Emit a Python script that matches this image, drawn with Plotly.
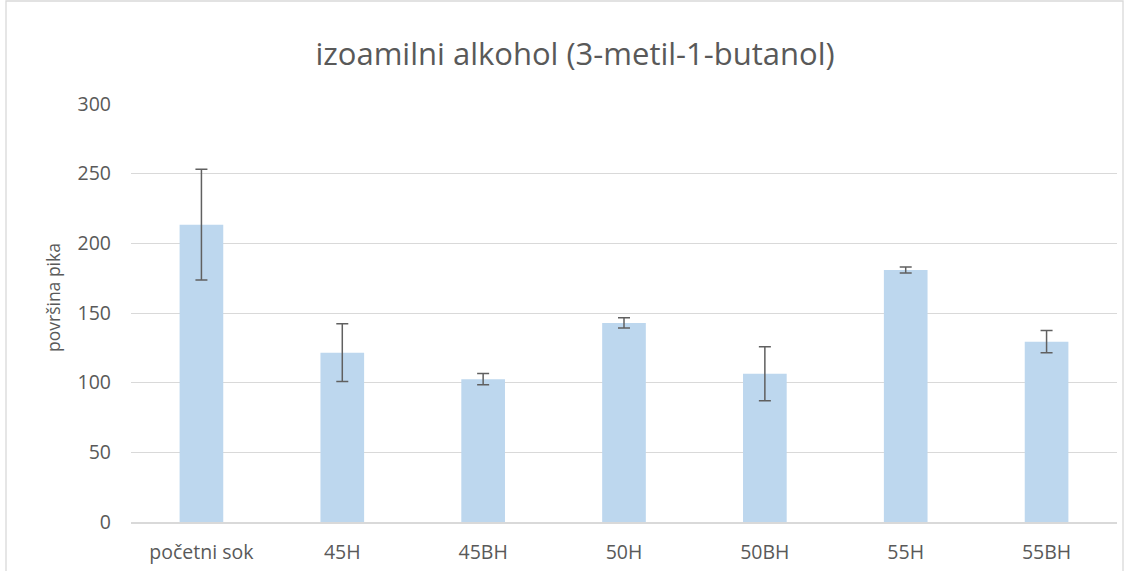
import plotly.graph_objects as go

categories = ["početni sok", "45H", "45BH", "50H", "50BH", "55H", "55BH"]
values = [213.4, 121.5, 102.5, 142.9, 106.4, 180.9, 129.4]
errors = [39.8, 20.7, 4.0, 3.7, 19.4, 2.2, 8.0]
y_ticks = [0, 50, 100, 150, 200, 250, 300]

text_gray = "#595959"
grid_gray = "#d9d9d9"
font_family = "'Open Sans', sans-serif"

fig = go.Figure()
fig.add_trace(go.Bar(
    x=categories,
    y=values,
    marker=dict(color="#bdd7ee", line=dict(width=0)),
    error_y=dict(type="data", array=errors, visible=True,
                 color="#606060", thickness=1.5, width=6),
    width=0.31,
))

fig.update_layout(
    width=1132, height=571,
    margin=dict(l=131, r=15, t=104, b=49),
    paper_bgcolor="white",
    plot_bgcolor="white",
    showlegend=False,
    font=dict(family=font_family, color=text_gray, size=16),
    title=dict(text="izoamilni alkohol (3-metil-1-butanol)",
               x=0.508, xanchor="center", y=0.905, yanchor="middle",
               font=dict(size=31, color=text_gray, family=font_family)),
    xaxis=dict(showgrid=False, showline=True, linecolor=grid_gray, linewidth=1.5,
               ticks="", tickfont=dict(size=19.5, color=text_gray),
               ticklabelstandoff=12, automargin=False),
    yaxis=dict(range=[0, 300], tickvals=y_ticks, showgrid=True, gridcolor=grid_gray,
               gridwidth=1.3, zeroline=False, showline=False, ticks="",
               tickfont=dict(size=19.5, color=text_gray), ticklabelstandoff=19,
               automargin=False),
    annotations=[dict(text="površina pika", textangle=-90, xref="paper", yref="paper",
                      x=-78 / 986, y=(522 - 298) / 418, xanchor="center", yanchor="middle",
                      showarrow=False, font=dict(size=17.5, color=text_gray))],
    shapes=[dict(type="rect", xref="paper", yref="paper",
                 x0=-125 / 986, x1=1 + 6 / 986, y0=-60 / 418, y1=1 + 103 / 418,
                 line=dict(color=grid_gray, width=1.3), fillcolor="rgba(0,0,0,0)",
                 layer="below")],
)

fig.write_html("out.html")
